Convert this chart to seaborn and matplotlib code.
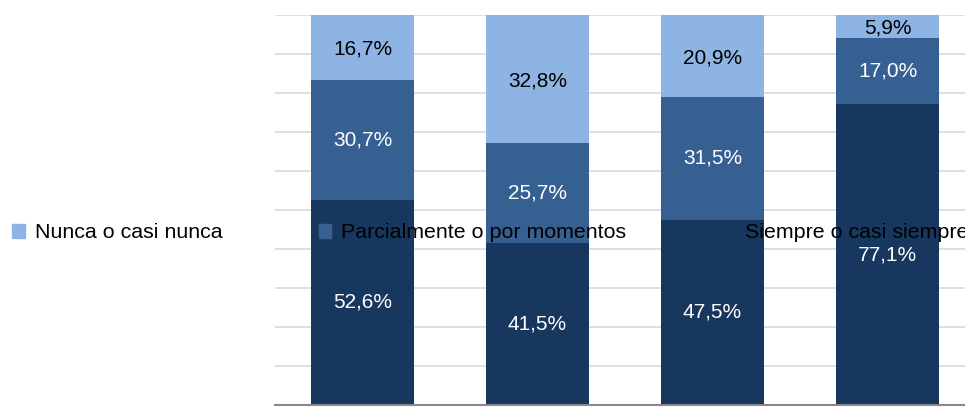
import matplotlib
matplotlib.use('Agg')
import matplotlib.pyplot as plt
import pandas as pd
import seaborn as sns

categorias = ["Grupo 1", "Grupo 2", "Grupo 3", "Grupo 4"]
series = ["Nunca o casi nunca", "Parcialmente o por momentos", "Siempre o casi siempre"]
siempre = [52.6, 41.5, 47.5, 77.1]
parcial = [30.7, 25.7, 31.5, 17.0]
nunca = [16.7, 32.8, 20.9, 5.9]

col_nunca = "#8EB4E3"
col_parcial = "#366092"
col_siempre = "#17375E"

df = pd.DataFrame({"cat": categorias, "siempre": siempre, "parcial": parcial, "nunca": nunca})
df["s_p"] = df["siempre"] + df["parcial"]
df["total"] = df["s_p"] + df["nunca"]

sns.set_style("white")
plt.rcParams['font.family'] = ['Liberation Sans', 'DejaVu Sans']

fig = plt.figure(figsize=(9.65, 4.07), dpi=100)
ax = fig.add_axes([275 / 965, 2 / 407, 700 / 965, 390 / 407])

for col, c in [("total", col_nunca), ("s_p", col_parcial), ("siempre", col_siempre)]:
    sns.barplot(data=df, x="cat", y=col, color=c, width=0.583, saturation=1, ax=ax,
                linewidth=0, zorder=2)

ax.set_xlim(-0.5, 3.5)
ax.set_ylim(0, 100)
ax.set_yticks(range(0, 101, 10))
ax.yaxis.grid(True, color="#D9D9D9", linewidth=1.2, zorder=0)
ax.set_axisbelow(True)
ax.set_xticklabels([])
ax.set_yticklabels([])
ax.tick_params(length=0)
ax.set_xlabel("")
ax.set_ylabel("")
for s in ["left", "right", "top"]:
    ax.spines[s].set_visible(False)
ax.spines["bottom"].set_color("#898989")
ax.spines["bottom"].set_linewidth(1.5)

fs = 15
for i in range(len(categorias)):
    ax.text(i, siempre[i] / 2, f"{siempre[i]:.1f}%".replace(".", ","), ha="center", va="center",
            color="white", fontsize=fs, zorder=5)
    ax.text(i, siempre[i] + parcial[i] / 2, f"{parcial[i]:.1f}%".replace(".", ","), ha="center",
            va="center", color="white", fontsize=fs, zorder=5)
    ax.text(i, siempre[i] + parcial[i] + nunca[i] / 2 - 0.4, f"{nunca[i]:.1f}%".replace(".", ","),
            ha="center", va="center", color="black", fontsize=fs, zorder=5)

handles = [plt.Rectangle((0, 0), 1, 1, color=c) for c in [col_nunca, col_parcial, col_siempre]]
fig.legend(handles, series, loc="center left", bbox_to_anchor=(12 / 965, 1 - 233 / 407), ncol=3,
           frameon=False, fontsize=15.4, labelcolor="black", handlelength=0.6, handleheight=0.6,
           handletextpad=0.46, columnspacing=4.5, borderaxespad=0, borderpad=0)

fig.savefig("out.png", dpi=100)
